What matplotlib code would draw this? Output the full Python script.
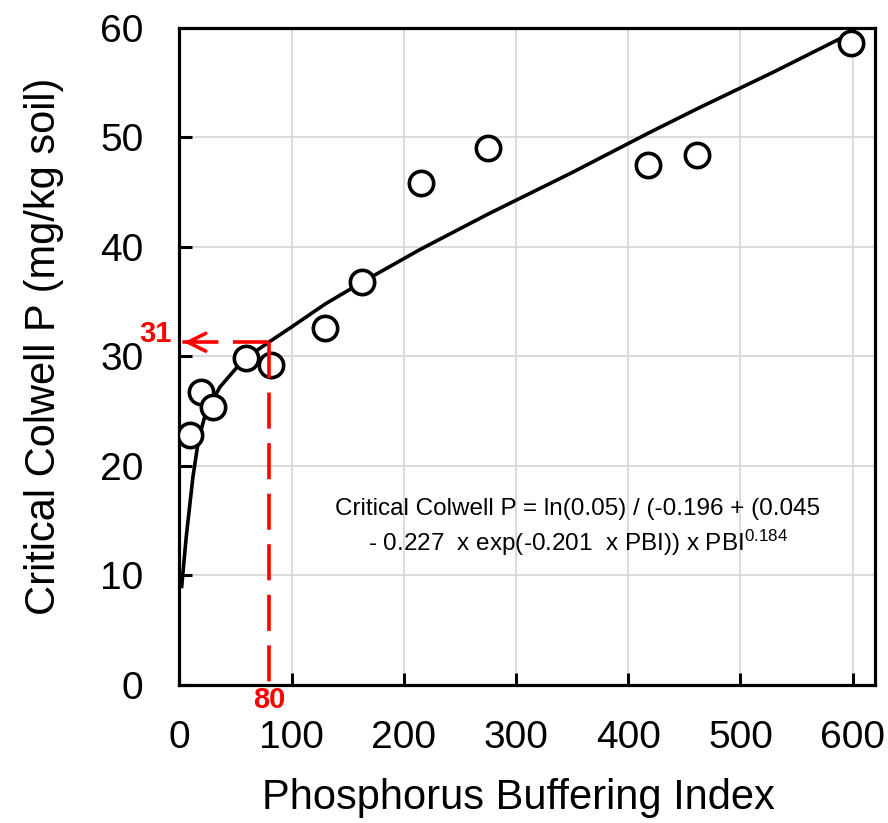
import matplotlib
matplotlib.use("Agg")
import matplotlib.pyplot as plt

plt.rcParams["font.family"] = ["Liberation Sans", "DejaVu Sans"]
plt.rcParams["mathtext.fontset"] = "custom"
plt.rcParams["mathtext.rm"] = "Liberation Sans"
plt.rcParams["mathtext.default"] = "regular"

# observed critical values
pbi = [9, 19, 30, 59, 82, 130, 163, 215, 275, 418, 461, 599]
crit_p = [22.8, 26.8, 25.4, 29.9, 29.2, 32.6, 36.8, 45.8, 49.0, 47.5, 48.4, 58.6]

# fitted curve
curve_x = [2, 6, 12, 17, 23, 36, 57, 81, 100, 130, 163, 215, 275, 350, 418, 461, 530, 600]
curve_y = [9.0, 13.5, 19.0, 22.4, 24.7, 27.2, 29.7, 31.4, 32.7, 34.8, 36.8, 39.8,
           43.0, 46.8, 50.4, 52.6, 56.0, 59.6]

# reading off the curve
pbi_ref = 80
p_ref = 31

xticks = [0, 100, 200, 300, 400, 500, 600]
yticks = [0, 10, 20, 30, 40, 50, 60]

fig = plt.figure(figsize=(8.88, 8.23), dpi=100)
ax = fig.add_axes([0.2021, 0.1677, 0.7833, 0.7983])

ax.set_xlim(0, 620)
ax.set_ylim(0, 60)
ax.set_xticks(xticks)
ax.set_yticks(yticks)
ax.grid(True, color="#d9d9d9", linewidth=1.3)
ax.set_axisbelow(True)

for s in ax.spines.values():
    s.set_linewidth(2.3)
ax.tick_params(direction="in", length=9, width=2.2, labelsize=28)
ax.tick_params(axis="x", pad=25)
ax.tick_params(axis="y", pad=26)

ax.plot(curve_x, curve_y, color="black", linewidth=2.6, zorder=3)
ax.plot(pbi, crit_p, "o", markersize=17.5, markerfacecolor="white",
        markeredgecolor="black", markeredgewidth=2.6, zorder=4)

# red dashed guide lines
dash = (0, (10, 4))
yl = p_ref + 0.3
ax.plot([pbi_ref, pbi_ref], [yl, 0], color="red", linewidth=2.6, linestyle=dash,
        zorder=5, clip_on=False)
ax.plot([pbi_ref, 2], [yl, yl], color="red", linewidth=2.6, linestyle=dash, zorder=5)
ax.annotate("", xy=(1.5, yl), xytext=(14, yl),
            arrowprops=dict(arrowstyle="->", color="red", lw=2.6, mutation_scale=32),
            zorder=5)
ax.text(-21, yl, str(p_ref), color="red", fontsize=21, fontweight="bold",
        ha="center", va="baseline")
ax.text(pbi_ref, -0.1, str(pbi_ref), color="red", fontsize=21, fontweight="bold",
        ha="center", va="top")

ax.text(355, 16.1, "Critical Colwell P = ln(0.05) / (-0.196 + (0.045",
        fontsize=17.5, ha="center", va="center")
ax.text(355, 13.0, r"- 0.227  x exp(-0.201  x PBI)) x PBI$^{0.184}$",
        fontsize=17.5, ha="center", va="center")

ax.set_xlabel("Phosphorus Buffering Index", fontsize=30, labelpad=16, x=0.487)
ax.set_ylabel("Critical Colwell P (mg/kg soil)", fontsize=30, labelpad=26, y=0.516)

fig.savefig("out.png", dpi=100)
